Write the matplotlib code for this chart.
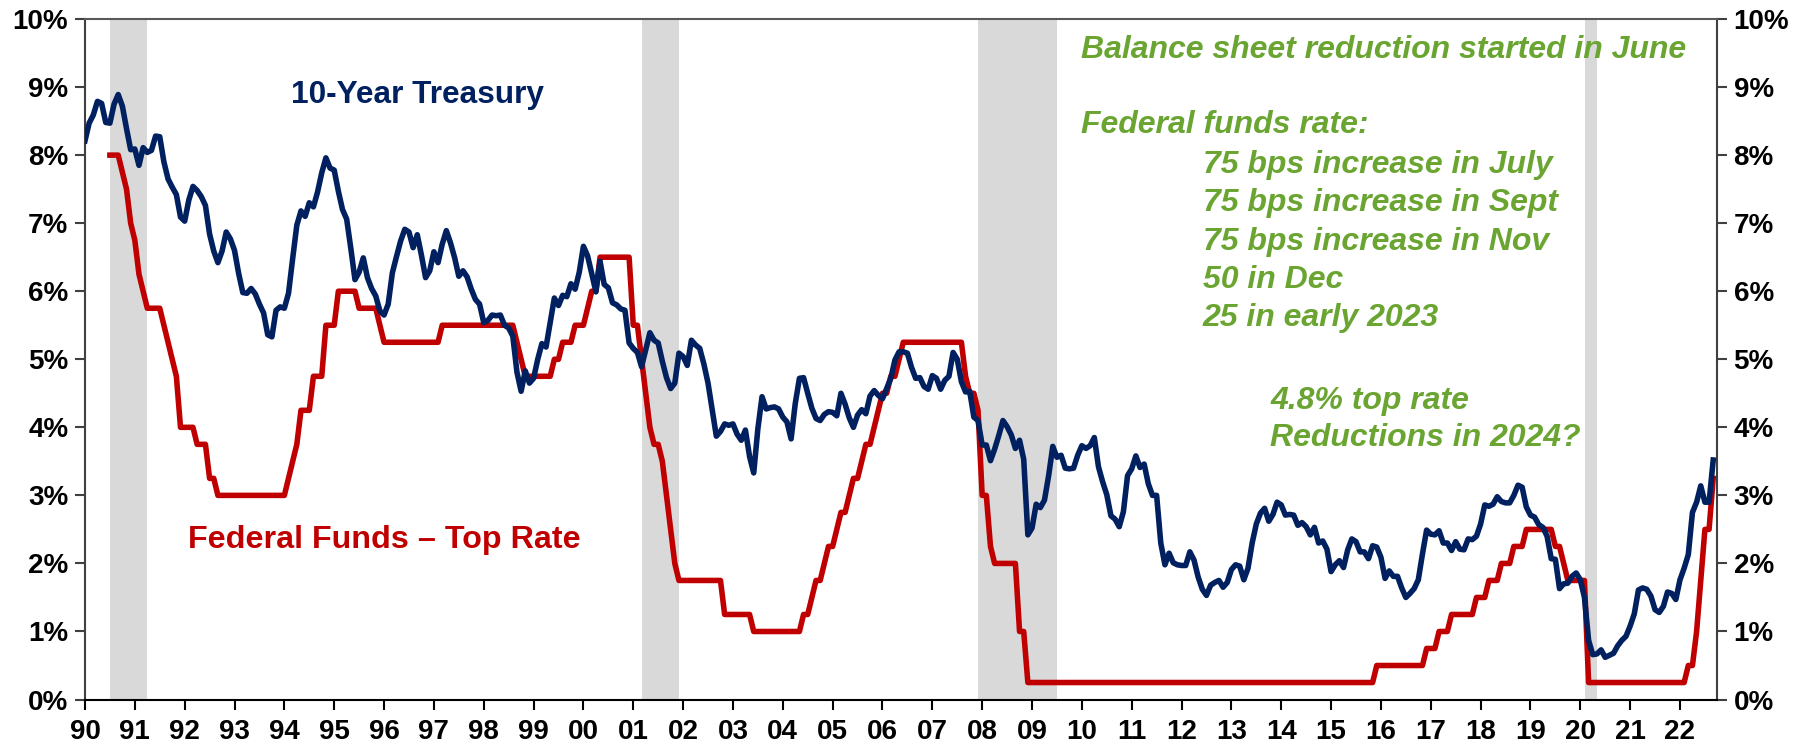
import numpy as np
import matplotlib.pyplot as plt

plt.rcParams['font.family'] = ['Liberation Sans', 'DejaVu Sans']

# 10-year Treasury yield, monthly averages, Jan 1990 - Sep 2022 (%)
t10 = [
    8.21, 8.47, 8.59, 8.79, 8.76, 8.48, 8.47, 8.75, 8.89, 8.72, 8.39, 8.08,  # 1990
    8.09, 7.85, 8.11, 8.04, 8.07, 8.28, 8.27, 7.90, 7.65, 7.53, 7.42, 7.09,  # 1991
    7.03, 7.34, 7.54, 7.48, 7.39, 7.26, 6.84, 6.59, 6.42, 6.59, 6.87, 6.77,  # 1992
    6.60, 6.26, 5.98, 5.97, 6.04, 5.96, 5.81, 5.68, 5.36, 5.33, 5.72, 5.77,  # 1993
    5.75, 5.97, 6.48, 6.97, 7.18, 7.10, 7.30, 7.24, 7.46, 7.74, 7.96, 7.81,  # 1994
    7.78, 7.47, 7.20, 7.06, 6.63, 6.17, 6.28, 6.49, 6.20, 6.04, 5.93, 5.71,  # 1995
    5.65, 5.81, 6.27, 6.51, 6.74, 6.91, 6.87, 6.64, 6.83, 6.53, 6.20, 6.30,  # 1996
    6.58, 6.42, 6.69, 6.89, 6.71, 6.49, 6.22, 6.30, 6.21, 6.03, 5.88, 5.81,  # 1997
    5.54, 5.57, 5.65, 5.64, 5.65, 5.50, 5.46, 5.34, 4.81, 4.53, 4.83, 4.65,  # 1998
    4.72, 5.00, 5.23, 5.18, 5.54, 5.90, 5.79, 5.94, 5.92, 6.11, 6.03, 6.28,  # 1999
    6.66, 6.52, 6.26, 5.99, 6.44, 6.10, 6.05, 5.83, 5.80, 5.74, 5.72, 5.24,  # 2000
    5.16, 5.10, 4.89, 5.14, 5.39, 5.28, 5.24, 4.97, 4.73, 4.57, 4.65, 5.09,  # 2001
    5.04, 4.91, 5.28, 5.21, 5.16, 4.93, 4.65, 4.26, 3.87, 3.94, 4.05, 4.03,  # 2002
    4.05, 3.90, 3.81, 3.96, 3.57, 3.33, 3.98, 4.45, 4.27, 4.29, 4.30, 4.27,  # 2003
    4.15, 4.08, 3.83, 4.35, 4.72, 4.73, 4.50, 4.28, 4.13, 4.10, 4.19, 4.23,  # 2004
    4.22, 4.17, 4.50, 4.34, 4.14, 4.00, 4.18, 4.26, 4.20, 4.46, 4.54, 4.47,  # 2005
    4.42, 4.57, 4.72, 4.99, 5.11, 5.11, 5.09, 4.88, 4.72, 4.73, 4.60, 4.56,  # 2006
    4.76, 4.72, 4.56, 4.69, 4.75, 5.10, 5.00, 4.67, 4.52, 4.53, 4.15, 4.10,  # 2007
    3.74, 3.74, 3.51, 3.68, 3.88, 4.10, 4.01, 3.89, 3.69, 3.81, 3.53, 2.42,  # 2008
    2.52, 2.87, 2.82, 2.93, 3.29, 3.72, 3.56, 3.59, 3.40, 3.39, 3.40, 3.59,  # 2009
    3.73, 3.69, 3.73, 3.85, 3.42, 3.20, 3.01, 2.70, 2.65, 2.54, 2.76, 3.29,  # 2010
    3.39, 3.58, 3.41, 3.46, 3.17, 3.00, 3.00, 2.30, 1.98, 2.15, 2.01, 1.98,  # 2011
    1.97, 1.97, 2.17, 2.05, 1.80, 1.62, 1.53, 1.68, 1.72, 1.75, 1.65, 1.72,  # 2012
    1.91, 1.98, 1.96, 1.76, 1.93, 2.30, 2.58, 2.74, 2.81, 2.62, 2.72, 2.90,  # 2013
    2.86, 2.71, 2.72, 2.71, 2.56, 2.60, 2.54, 2.42, 2.53, 2.30, 2.33, 2.21,  # 2014
    1.88, 1.98, 2.04, 1.94, 2.20, 2.36, 2.32, 2.17, 2.17, 2.07, 2.26, 2.24,  # 2015
    2.09, 1.78, 1.89, 1.81, 1.81, 1.64, 1.50, 1.56, 1.63, 1.76, 2.14, 2.49,  # 2016
    2.43, 2.42, 2.48, 2.30, 2.30, 2.19, 2.32, 2.21, 2.20, 2.36, 2.35, 2.40,  # 2017
    2.58, 2.86, 2.84, 2.87, 2.98, 2.91, 2.89, 2.89, 3.00, 3.15, 3.12, 2.83,  # 2018
    2.71, 2.68, 2.57, 2.53, 2.40, 2.07, 2.06, 1.63, 1.70, 1.71, 1.81, 1.86,  # 2019
    1.76, 1.50, 0.87, 0.66, 0.67, 0.73, 0.62, 0.65, 0.68, 0.79, 0.87, 0.93,  # 2020
    1.08, 1.26, 1.61, 1.64, 1.62, 1.52, 1.32, 1.28, 1.37, 1.58, 1.56, 1.47,  # 2021
    1.76, 1.93, 2.13, 2.75, 2.90, 3.14, 2.90, 2.90, 3.52,                    # 2022
]

# Federal funds target, top of range, monthly, Jul 1990 - Sep 2022 (%)
fed = [
    8.00, 8.00, 8.00, 7.75, 7.50, 7.00,                                      # 1990 H2
    6.75, 6.25, 6.00, 5.75, 5.75, 5.75, 5.75, 5.50, 5.25, 5.00, 4.75, 4.00,  # 1991
    4.00, 4.00, 4.00, 3.75, 3.75, 3.75, 3.25, 3.25, 3.00, 3.00, 3.00, 3.00,  # 1992
    3.00, 3.00, 3.00, 3.00, 3.00, 3.00, 3.00, 3.00, 3.00, 3.00, 3.00, 3.00,  # 1993
    3.00, 3.25, 3.50, 3.75, 4.25, 4.25, 4.25, 4.75, 4.75, 4.75, 5.50, 5.50,  # 1994
    5.50, 6.00, 6.00, 6.00, 6.00, 6.00, 5.75, 5.75, 5.75, 5.75, 5.75, 5.50,  # 1995
    5.25, 5.25, 5.25, 5.25, 5.25, 5.25, 5.25, 5.25, 5.25, 5.25, 5.25, 5.25,  # 1996
    5.25, 5.25, 5.50, 5.50, 5.50, 5.50, 5.50, 5.50, 5.50, 5.50, 5.50, 5.50,  # 1997
    5.50, 5.50, 5.50, 5.50, 5.50, 5.50, 5.50, 5.50, 5.25, 5.00, 4.75, 4.75,  # 1998
    4.75, 4.75, 4.75, 4.75, 4.75, 5.00, 5.00, 5.25, 5.25, 5.25, 5.50, 5.50,  # 1999
    5.50, 5.75, 6.00, 6.00, 6.50, 6.50, 6.50, 6.50, 6.50, 6.50, 6.50, 6.50,  # 2000
    5.50, 5.50, 5.00, 4.50, 4.00, 3.75, 3.75, 3.50, 3.00, 2.50, 2.00, 1.75,  # 2001
    1.75, 1.75, 1.75, 1.75, 1.75, 1.75, 1.75, 1.75, 1.75, 1.75, 1.25, 1.25,  # 2002
    1.25, 1.25, 1.25, 1.25, 1.25, 1.00, 1.00, 1.00, 1.00, 1.00, 1.00, 1.00,  # 2003
    1.00, 1.00, 1.00, 1.00, 1.00, 1.25, 1.25, 1.50, 1.75, 1.75, 2.00, 2.25,  # 2004
    2.25, 2.50, 2.75, 2.75, 3.00, 3.25, 3.25, 3.50, 3.75, 3.75, 4.00, 4.25,  # 2005
    4.50, 4.50, 4.75, 4.75, 5.00, 5.25, 5.25, 5.25, 5.25, 5.25, 5.25, 5.25,  # 2006
    5.25, 5.25, 5.25, 5.25, 5.25, 5.25, 5.25, 5.25, 4.75, 4.50, 4.50, 4.25,  # 2007
    3.00, 3.00, 2.25, 2.00, 2.00, 2.00, 2.00, 2.00, 2.00, 1.00, 1.00, 0.25,  # 2008
    0.25, 0.25, 0.25, 0.25, 0.25, 0.25, 0.25, 0.25, 0.25, 0.25, 0.25, 0.25,  # 2009
    0.25, 0.25, 0.25, 0.25, 0.25, 0.25, 0.25, 0.25, 0.25, 0.25, 0.25, 0.25,  # 2010
    0.25, 0.25, 0.25, 0.25, 0.25, 0.25, 0.25, 0.25, 0.25, 0.25, 0.25, 0.25,  # 2011
    0.25, 0.25, 0.25, 0.25, 0.25, 0.25, 0.25, 0.25, 0.25, 0.25, 0.25, 0.25,  # 2012
    0.25, 0.25, 0.25, 0.25, 0.25, 0.25, 0.25, 0.25, 0.25, 0.25, 0.25, 0.25,  # 2013
    0.25, 0.25, 0.25, 0.25, 0.25, 0.25, 0.25, 0.25, 0.25, 0.25, 0.25, 0.25,  # 2014
    0.25, 0.25, 0.25, 0.25, 0.25, 0.25, 0.25, 0.25, 0.25, 0.25, 0.25, 0.50,  # 2015
    0.50, 0.50, 0.50, 0.50, 0.50, 0.50, 0.50, 0.50, 0.50, 0.50, 0.50, 0.75,  # 2016
    0.75, 0.75, 1.00, 1.00, 1.00, 1.25, 1.25, 1.25, 1.25, 1.25, 1.25, 1.50,  # 2017
    1.50, 1.50, 1.75, 1.75, 1.75, 2.00, 2.00, 2.00, 2.25, 2.25, 2.25, 2.50,  # 2018
    2.50, 2.50, 2.50, 2.50, 2.50, 2.50, 2.25, 2.25, 2.00, 1.75, 1.75, 1.75,  # 2019
    1.75, 1.75, 0.25, 0.25, 0.25, 0.25, 0.25, 0.25, 0.25, 0.25, 0.25, 0.25,  # 2020
    0.25, 0.25, 0.25, 0.25, 0.25, 0.25, 0.25, 0.25, 0.25, 0.25, 0.25, 0.25,  # 2021
    0.25, 0.25, 0.50, 0.50, 1.00, 1.75, 2.50, 2.50, 3.25,                    # 2022
]

# recessions (start, end) in decimal years
recessions = [(1990.5, 1991.25), (2001.17, 2001.92), (2007.92, 2009.5), (2020.1, 2020.33)]

years = list(range(1990, 2023))
year_labels = [f"{y % 100:02d}" for y in years]

navy = '#002060'
red = '#C00000'
green = '#6AA532'

t10_x = 1990 + np.arange(len(t10)) / 12
fed_x = 1990.5 + np.arange(len(fed)) / 12

fig = plt.figure(figsize=(18.12, 7.43), dpi=100)
ax = fig.add_axes([0.0469, 0.0585, 0.9006, 0.9159])

for a, b in recessions:
    ax.axvspan(a, b, color='#D9D9D9', lw=0, zorder=0)

ax.plot(fed_x, fed, color=red, lw=4.0, zorder=2)
ax.plot(t10_x, t10, color=navy, lw=4.0, zorder=3)

ax.set_xlim(1990, 2022.74)
ax.set_ylim(0, 10)

ax.set_xticks(years)
ax.set_xticklabels(year_labels)
ax.set_yticks(range(0, 11))
ax.set_yticklabels([f"{v}%" for v in range(0, 11)])
ax.tick_params(axis='both', direction='out', length=7, width=1.5,
               labelsize=20, colors='black')
ax.tick_params(axis='x', pad=7)
ax.tick_params(axis='y', right=True, labelright=True, color='#404040', pad=5)
for t in ax.xaxis.get_major_ticks():
    t.label1.set_fontweight('bold')
for t in ax.yaxis.get_major_ticks():
    t.label1.set_fontweight('bold')
    t.label2.set_fontweight('bold')

for side in ['left', 'right']:
    ax.spines[side].set_color('#404040')
    ax.spines[side].set_linewidth(1.5)
ax.spines['bottom'].set_color('black')
ax.spines['bottom'].set_linewidth(1.5)
ax.spines['top'].set_color('#595959')
ax.spines['top'].set_linewidth(1.5)

ax.text(1996.68, 8.88, '10-Year Treasury', color=navy, fontsize=22.8,
        fontweight='bold', ha='center', va='center')
ax.text(1996.0, 2.34, 'Federal Funds \u2013 Top Rate', color=red, fontsize=23.2,
        fontweight='bold', ha='center', va='center')

gkw = dict(color=green, fontsize=23, fontweight='bold', fontstyle='italic',
           ha='left', va='center')
ax.text(2009.98, 9.54, 'Balance sheet reduction started in June', **gkw)
ax.text(2009.98, 8.44, 'Federal funds rate:', **gkw)
lines = ['75 bps increase in July', '75 bps increase in Sept',
         '75 bps increase in Nov', '50 in Dec', '25 in early 2023']
for i, s in enumerate(lines):
    ax.text(2012.43, 7.86 - i * 0.565, s, **gkw)
ax.text(2013.78, 4.38, '4.8% top rate', **gkw)
ax.text(2013.78, 3.84, 'Reductions in 2024?', **gkw)

fig.savefig('out.png', dpi=100)
